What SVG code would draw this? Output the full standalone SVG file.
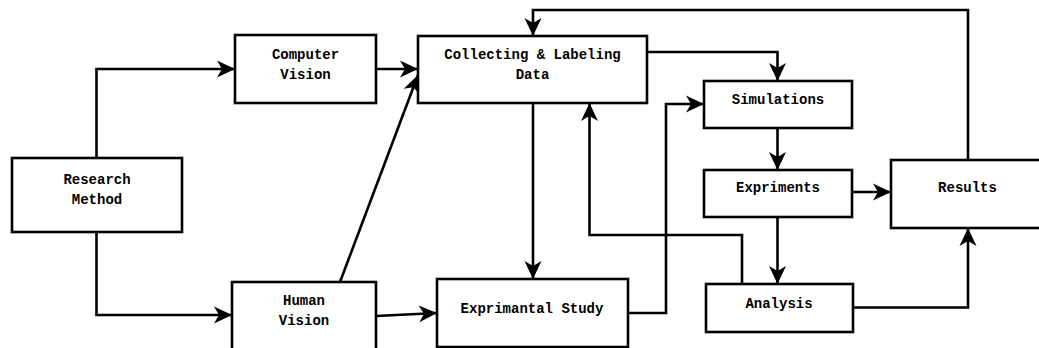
<svg xmlns="http://www.w3.org/2000/svg" width="1039" height="348" viewBox="0 0 1039 348">
  <style>
    .box { fill: #ffffff; stroke: #000000; stroke-width: 2.6; }
    .lbl { font-family: "Liberation Mono", "Courier New", monospace; font-weight: bold; font-size: 14px; fill: #000000; text-anchor: middle; }
    .edge { fill: none; stroke: #000000; stroke-width: 2.6; marker-end: url(#arrow); }
    .plain { fill: none; stroke: #000000; stroke-width: 2.6; }
  </style>
  <defs>
    <marker id="arrow" markerUnits="userSpaceOnUse" viewBox="-19 -10 20 20" refX="0" refY="0" markerWidth="20" markerHeight="20" orient="auto">
      <path d="M0,0 L-18,-8.5 L-13,0 L-18,8.5 Z" fill="#000000"/>
    </marker>
  </defs>
  <rect width="1039" height="348" fill="#ffffff"/>

  <g id="connectors">
    <path class="edge" d="M96.5,158 V69 H235"/>
    <path class="edge" d="M96.5,232 V315 H232"/>
    <path class="edge" d="M376,69 H418"/>
    <path class="edge" d="M340,282 L418,75"/>
    <path class="edge" d="M376,316 L437,313"/>
    <path class="edge" d="M533,103 V279"/>
    <path class="edge" d="M968,160 V10 H533 V36"/>
    <path class="edge" d="M647,52 H777.5 V81"/>
    <path class="edge" d="M628,313 H666 V104 H704"/>
    <path class="edge" d="M777.5,128 V170"/>
    <path class="edge" d="M777.5,217 V284"/>
    <path class="edge" d="M852,192 H891"/>
    <path class="edge" d="M853,307.5 H968 V228"/>
    <path class="edge" d="M742,284 V235 H589.5 V103"/>
  </g>

  <g id="research-method">
    <rect class="box" x="12" y="158" width="170" height="74"/>
    <text class="lbl" x="97" y="183.5">Research</text>
    <text class="lbl" x="97" y="203.5">Method</text>
  </g>
  <g id="computer-vision">
    <rect class="box" x="235" y="35" width="141" height="68"/>
    <text class="lbl" x="305.5" y="58.5">Computer</text>
    <text class="lbl" x="305.5" y="78.5">Vision</text>
  </g>
  <g id="human-vision">
    <rect class="box" x="232" y="282" width="144" height="72"/>
    <text class="lbl" x="304" y="304.5">Human</text>
    <text class="lbl" x="304" y="324.5">Vision</text>
  </g>
  <g id="collecting-labeling">
    <rect class="box" x="418" y="36" width="229" height="67"/>
    <text class="lbl" x="532.5" y="58.5">Collecting &amp; Labeling</text>
    <text class="lbl" x="532.5" y="78.5">Data</text>
  </g>
  <g id="exprimantal-study">
    <rect class="box" x="437" y="279" width="191" height="68"/>
    <text class="lbl" x="532" y="313">Exprimantal Study</text>
  </g>
  <g id="simulations">
    <rect class="box" x="704" y="81" width="148" height="47"/>
    <text class="lbl" x="778" y="103.5">Simulations</text>
  </g>
  <g id="expriments">
    <rect class="box" x="704" y="170" width="148" height="47"/>
    <text class="lbl" x="778" y="192">Expriments</text>
  </g>
  <g id="analysis">
    <rect class="box" x="706" y="284" width="147" height="48"/>
    <text class="lbl" x="779" y="308">Analysis</text>
  </g>
  <g id="results">
    <rect class="box" x="891" y="160" width="154" height="68"/>
    <text class="lbl" x="967.5" y="192">Results</text>
  </g>
</svg>
